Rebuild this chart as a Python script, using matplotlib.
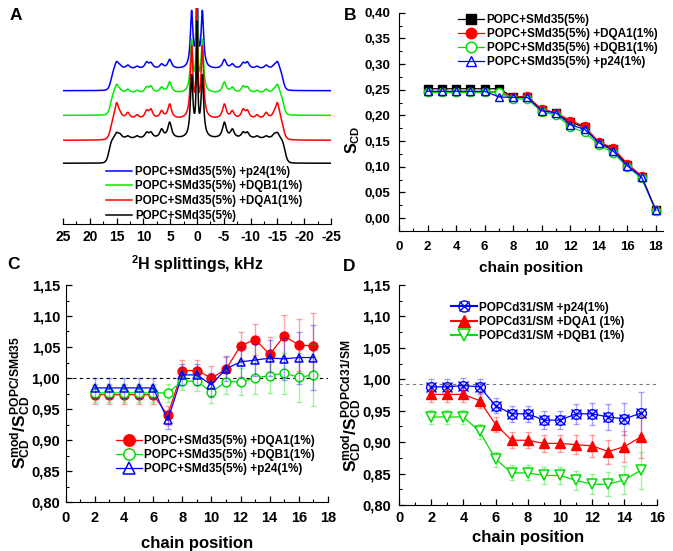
import numpy as np
import matplotlib
matplotlib.use("Agg")
import matplotlib.pyplot as plt
from matplotlib.ticker import MultipleLocator, FuncFormatter
from matplotlib.lines import Line2D

plt.rcParams['font.family'] = ['Liberation Sans', 'DejaVu Sans']
plt.rcParams['font.weight'] = 'bold'
plt.rcParams['mathtext.fontset'] = 'custom'
plt.rcParams['mathtext.rm'] = 'Liberation Sans:bold'
plt.rcParams['mathtext.it'] = 'Liberation Sans:bold'
plt.rcParams['mathtext.bf'] = 'Liberation Sans:bold'
plt.rcParams['mathtext.default'] = 'rm'

# ---------------- Panel A: 2H spectra (peak lists, kHz / rel. height) -------------
spec_labels = ["POPC+SMd35(5%) +p24(1%)", "POPC+SMd35(5%) +DQB1(1%)",
               "POPC+SMd35(5%) +DQA1(1%)", "POPC+SMd35(5%)"]
spec_colors = ["#0000ff", "#00ee00", "#ff0000", "#000000"]
spec_offsets = [3.0, 1.98, 0.95, 0.0]
spec_edge = [16.0, 16.1, 16.1, 16.4]
spec_plateau = [0.88, 0.9, 0.85, 1.0]
peak_pos = [15.0, 14.4, 12.9, 11.2, 9.4, 8.6, 6.6, 5.1, 1.0, 0.0]
peak_h_blue = [0.30, 0.10, 0.15, 0.10, 0.25, 0.22, 0.18, 0.38, 2.3, 4.0]
peak_h_green = [0.35, 0.10, 0.15, 0.10, 0.22, 0.25, 0.22, 0.45, 2.1, 4.2]
peak_h_red = [0.65, 0.15, 0.25, 0.15, 0.30, 0.35, 0.30, 0.60, 2.9, 4.2]
peak_h_black = [0.22, 0.15, 0.10, 0.10, 0.22, 0.22, 0.35, 0.65, 2.5, 4.5]
spec_peaks = [peak_h_blue, peak_h_green, peak_h_red, peak_h_black]

# ---------------- Panel B: order parameters ----------------
pos_B = [2, 3, 4, 5, 6, 7, 8, 9, 10, 11, 12, 13, 14, 15, 16, 17, 18]
S_ref = [0.252, 0.252, 0.252, 0.252, 0.252, 0.252, 0.236, 0.236, 0.211, 0.205, 0.187, 0.177, 0.147, 0.135, 0.104, 0.081, 0.015]
S_DQA1 = [0.246, 0.246, 0.246, 0.246, 0.246, 0.246, 0.236, 0.237, 0.212, 0.205, 0.190, 0.179, 0.148, 0.137, 0.106, 0.082, 0.015]
S_DQB1 = [0.245, 0.245, 0.245, 0.245, 0.245, 0.245, 0.232, 0.232, 0.207, 0.201, 0.178, 0.167, 0.143, 0.127, 0.100, 0.078, 0.014]
S_p24 = [0.247, 0.247, 0.247, 0.247, 0.247, 0.236, 0.235, 0.235, 0.209, 0.205, 0.182, 0.173, 0.147, 0.131, 0.102, 0.080, 0.015]

# ---------------- Panel C: ratios SMd35 ----------------
pos_C = [2, 3, 4, 5, 6, 7, 8, 9, 10, 11, 12, 13, 14, 15, 16, 17]
C_DQA1 = [0.973, 0.973, 0.973, 0.973, 0.973, 0.940, 1.012, 1.012, 1.000, 1.014, 1.052, 1.062, 1.038, 1.068, 1.053, 1.052]
C_DQA1_err = [0.015, 0.015, 0.015, 0.015, 0.015, 0.015, 0.017, 0.017, 0.019, 0.020, 0.023, 0.025, 0.028, 0.034, 0.042, 0.053]
C_DQB1 = [0.976, 0.976, 0.976, 0.976, 0.976, 0.976, 0.995, 0.995, 0.977, 0.994, 0.994, 1.000, 1.004, 1.008, 1.001, 1.005]
C_DQB1_err = [0.015, 0.015, 0.015, 0.015, 0.015, 0.015, 0.015, 0.016, 0.018, 0.020, 0.022, 0.025, 0.028, 0.033, 0.040, 0.050]
C_p24 = [0.984, 0.984, 0.984, 0.984, 0.984, 0.932, 1.005, 1.005, 0.989, 1.015, 1.026, 1.029, 1.032, 1.031, 1.033, 1.033]
C_p24_err = [0.016, 0.016, 0.016, 0.016, 0.016, 0.014, 0.017, 0.017, 0.019, 0.020, 0.024, 0.026, 0.029, 0.034, 0.042, 0.053]

# ---------------- Panel D: ratios POPCd31 ----------------
pos_D = [2, 3, 4, 5, 6, 7, 8, 9, 10, 11, 12, 13, 14, 15]
D_p24 = [0.988, 0.988, 0.990, 0.988, 0.958, 0.945, 0.945, 0.935, 0.935, 0.945, 0.945, 0.940, 0.937, 0.946]
D_p24_err = [0.012, 0.012, 0.012, 0.012, 0.012, 0.013, 0.013, 0.014, 0.014, 0.016, 0.018, 0.021, 0.025, 0.034]
D_DQA1 = [0.976, 0.976, 0.976, 0.966, 0.928, 0.903, 0.903, 0.898, 0.898, 0.896, 0.894, 0.885, 0.893, 0.908]
D_DQA1_err = [0.012, 0.012, 0.012, 0.012, 0.012, 0.013, 0.013, 0.014, 0.014, 0.015, 0.017, 0.019, 0.024, 0.033]
D_DQB1 = [0.940, 0.940, 0.940, 0.917, 0.873, 0.851, 0.851, 0.847, 0.847, 0.839, 0.833, 0.833, 0.840, 0.855]
D_DQB1_err = [0.011, 0.011, 0.011, 0.012, 0.012, 0.012, 0.012, 0.013, 0.013, 0.015, 0.016, 0.019, 0.022, 0.030]

RED = "#ff0000"; GREEN = "#00dd00"; BLUE = "#0000ff"; BLACK = "#000000"

fig = plt.figure(figsize=(6.73, 5.51), dpi=100)
W, H = 673.0, 551.0

def axes_px(left, top, right, bottom):
    return fig.add_axes([left / W, 1 - bottom / H, (right - left) / W, (bottom - top) / H])

def style_ax(ax, fs, xpad=6.5, ypad=5):
    for s in ['top', 'right']:
        ax.spines[s].set_visible(False)
    ax.tick_params(which='major', direction='in', length=4, width=0.9, labelsize=fs)
    ax.tick_params(which='minor', direction='in', length=2.2, width=0.8)
    ax.tick_params(axis='x', which='major', pad=xpad)
    ax.tick_params(axis='y', which='major', pad=ypad)
    for lab in ax.get_xticklabels() + ax.get_yticklabels():
        lab.set_fontweight('bold')

comma = FuncFormatter(lambda v, p: ("%.2f" % v).replace('.', ','))

# ---- A ----
axA = axes_px(63, 8, 331, 224)
x = np.linspace(25, -25, 2001)
for lab, col, off, edge, plat, hs in zip(spec_labels, spec_colors, spec_offsets,
                                         spec_edge, spec_plateau, spec_peaks):
    y = plat / (1 + np.exp((np.abs(x) - edge) / 0.25))
    for p, h in zip(peak_pos, hs):
        w = 0.28 if p < 2 else 0.42
        if p == 0:
            y = y + h / (1 + (x / 0.15) ** 2)
        else:
            y = y + h / (1 + ((x - p) / w) ** 2) + h / (1 + ((x + p) / w) ** 2)
    axA.plot(x, y + off, color=col, lw=1.1, label=lab)
axA.set_xlim(25, -25)
axA.set_ylim(-2.51, 6.42)
for s in ['top', 'right', 'left']:
    axA.spines[s].set_visible(False)
axA.set_yticks([])
axA.xaxis.set_major_locator(MultipleLocator(5))
axA.xaxis.set_minor_locator(MultipleLocator(2.5))
axA.tick_params(which='major', direction='in', length=4, width=0.9, labelsize=10, pad=4)
axA.tick_params(which='minor', direction='in', length=2.2, width=0.8)
axA.xaxis.set_major_formatter(FuncFormatter(lambda v, p: "%d" % v))
for lab in axA.get_xticklabels():
    lab.set_fontweight('bold')
axA.set_xlabel(r"$^{2}$H splittings, kHz", fontsize=11.5, fontweight='bold', labelpad=7)
axA.legend(loc='upper left', bbox_to_anchor=(0.16, 0.27), frameon=False,
           handlelength=2.3, handletextpad=0.25, labelspacing=0.24,
           borderpad=0, borderaxespad=0, prop={'weight': 'bold', 'size': 8.3})

# ---- B ----
axB = axes_px(399, 12.7, 663, 231)
axB.plot(pos_B, S_ref, '-s', color=BLACK, mfc=BLACK, ms=5.5, lw=0.9, label="POPC+SMd35(5%)")
axB.plot(pos_B, S_DQA1, '-o', color=RED, mfc=RED, ms=5.8, lw=0.9, label="POPC+SMd35(5%) +DQA1(1%)")
axB.plot(pos_B, S_DQB1, '-o', color=GREEN, mfc='white', mew=1.1, ms=5.8, lw=0.9, label="POPC+SMd35(5%) +DQB1(1%)")
axB.plot(pos_B, S_p24, '-^', color=BLUE, mfc='none', mew=1.0, ms=5.8, lw=0.9, label="POPC+SMd35(5%) +p24(1%)")
axB.set_xlim(0, 18.5)
axB.set_ylim(-0.025, 0.40)
axB.xaxis.set_major_locator(MultipleLocator(2))
axB.xaxis.set_minor_locator(MultipleLocator(1))
axB.yaxis.set_major_locator(MultipleLocator(0.05))
axB.yaxis.set_minor_locator(MultipleLocator(0.025))
axB.yaxis.set_major_formatter(comma)
style_ax(axB, 9.5, xpad=7, ypad=6)
axB.set_xlabel("chain position", fontsize=11, fontweight='bold', labelpad=6)
axB.set_ylabel(r"S$_{CD}$", fontsize=11.5, fontweight='bold')
axB.yaxis.set_label_coords(-0.14, 0.42)
axB.legend(loc='upper left', bbox_to_anchor=(0.225, 0.995), frameon=False,
           handlelength=2.2, handletextpad=0.2, labelspacing=0.18, markerscale=1.3,
           borderpad=0, borderaxespad=0, prop={'weight': 'bold', 'size': 8.5})

# ---- C ----
axC = axes_px(65.7, 285, 328, 502)
axC.axhline(1.0, color=BLACK, ls=(0, (3, 3)), lw=0.8)
for yv, ev, col, mk, mfc, lab in [
        (C_DQA1, C_DQA1_err, RED, 'o', RED, "POPC+SMd35(5%) +DQA1(1%)"),
        (C_DQB1, C_DQB1_err, GREEN, 'o', 'white', "POPC+SMd35(5%) +DQB1(1%)"),
        (C_p24, C_p24_err, BLUE, '^', 'none', "POPC+SMd35(5%) +p24(1%)")]:
    axC.errorbar(pos_C, yv, yerr=ev, fmt='none', ecolor=col, alpha=0.35,
                 elinewidth=1.0, capsize=2.2, capthick=1.0)
    axC.plot(pos_C, yv, '-', marker=mk, color=col, mfc=mfc, mew=1.1, ms=6.3, lw=0.9, label=lab)
axC.set_xlim(0, 18)
axC.set_ylim(0.80, 1.15)
axC.xaxis.set_major_locator(MultipleLocator(2))
axC.xaxis.set_minor_locator(MultipleLocator(1))
axC.yaxis.set_major_locator(MultipleLocator(0.05))
axC.yaxis.set_minor_locator(MultipleLocator(0.025))
axC.yaxis.set_major_formatter(comma)
style_ax(axC, 10.5, xpad=6.5, ypad=4)
axC.set_xlabel("chain position", fontsize=12, fontweight='bold', labelpad=8)
axC.set_ylabel(r"S$_{CD}^{mod}$/S$_{CD}^{POPC/SMd35}$", fontsize=12.5, fontweight='bold')
axC.yaxis.set_label_coords(-0.125, 0.46)
axC.legend(loc='upper left', bbox_to_anchor=(0.19, 0.31), frameon=False,
           handlelength=2.2, handletextpad=0.2, labelspacing=0.2, markerscale=1.3,
           borderpad=0, borderaxespad=0, prop={'weight': 'bold', 'size': 8.5})

# ---- D ----
axD = axes_px(399, 285, 656.7, 505)
axD.axhline(0.993, color='#777777', ls=(0, (3, 3)), lw=0.8)
eb = dict(fmt='none', alpha=0.35, elinewidth=1.0, capsize=2.2, capthick=1.0)
axD.errorbar(pos_D, D_p24, yerr=D_p24_err, ecolor=BLUE, **eb)
axD.errorbar(pos_D, D_DQA1, yerr=D_DQA1_err, ecolor=RED, **eb)
axD.errorbar(pos_D, D_DQB1, yerr=D_DQB1_err, ecolor=GREEN, **eb)
axD.plot(pos_D, D_p24, '-o', color=BLUE, mfc='none', mew=1.0, ms=7, lw=0.9)
axD.plot(pos_D, D_p24, 'x', color=BLUE, mew=1.0, ms=6.5)
axD.plot(pos_D, D_DQA1, '-^', color=RED, mfc=RED, ms=6.5, lw=0.9)
axD.plot(pos_D, D_DQB1, '-v', color=GREEN, mfc='white', mew=1.1, ms=6.5, lw=0.9)
axD.set_xlim(0, 16)
axD.set_ylim(0.80, 1.15)
axD.xaxis.set_major_locator(MultipleLocator(2))
axD.xaxis.set_minor_locator(MultipleLocator(1))
axD.yaxis.set_major_locator(MultipleLocator(0.05))
axD.yaxis.set_minor_locator(MultipleLocator(0.025))
axD.yaxis.set_major_formatter(comma)
style_ax(axD, 10.5, xpad=4, ypad=6)
axD.set_xlabel("chain position", fontsize=12, fontweight='bold', labelpad=4)
axD.set_ylabel(r"S$_{CD}^{mod}$/S$_{CD}^{POPCd31/SM}$", fontsize=12.5, fontweight='bold')
axD.yaxis.set_label_coords(-0.135, 0.45)
hD = [(Line2D([], [], color=BLUE, marker='o', mfc='none', ms=8),
       Line2D([], [], color=BLUE, marker='x', ls='none', ms=7.5)),
      Line2D([], [], color=RED, marker='^', mfc=RED, ms=8.5),
      Line2D([], [], color=GREEN, marker='v', mfc='white', mew=1.1, ms=8.5)]
axD.legend(hD, ["POPCd31/SM +p24(1%)", "POPCd31/SM +DQA1 (1%)", "POPCd31/SM +DQB1 (1%)"],
           loc='upper left', bbox_to_anchor=(0.2, 0.925), frameon=False,
           handlelength=2.2, handletextpad=0.2, labelspacing=0.2,
           borderpad=0, borderaxespad=0, prop={'weight': 'bold', 'size': 8.5})

# panel letters
for t, px, py in [("A", 16, 16), ("B", 350, 16), ("C", 14, 264), ("D", 349, 266)]:
    fig.text(px / W, 1 - py / H, t, fontsize=12.5, fontweight='bold', ha='center', va='center')

fig.savefig("out.png", dpi=100)
